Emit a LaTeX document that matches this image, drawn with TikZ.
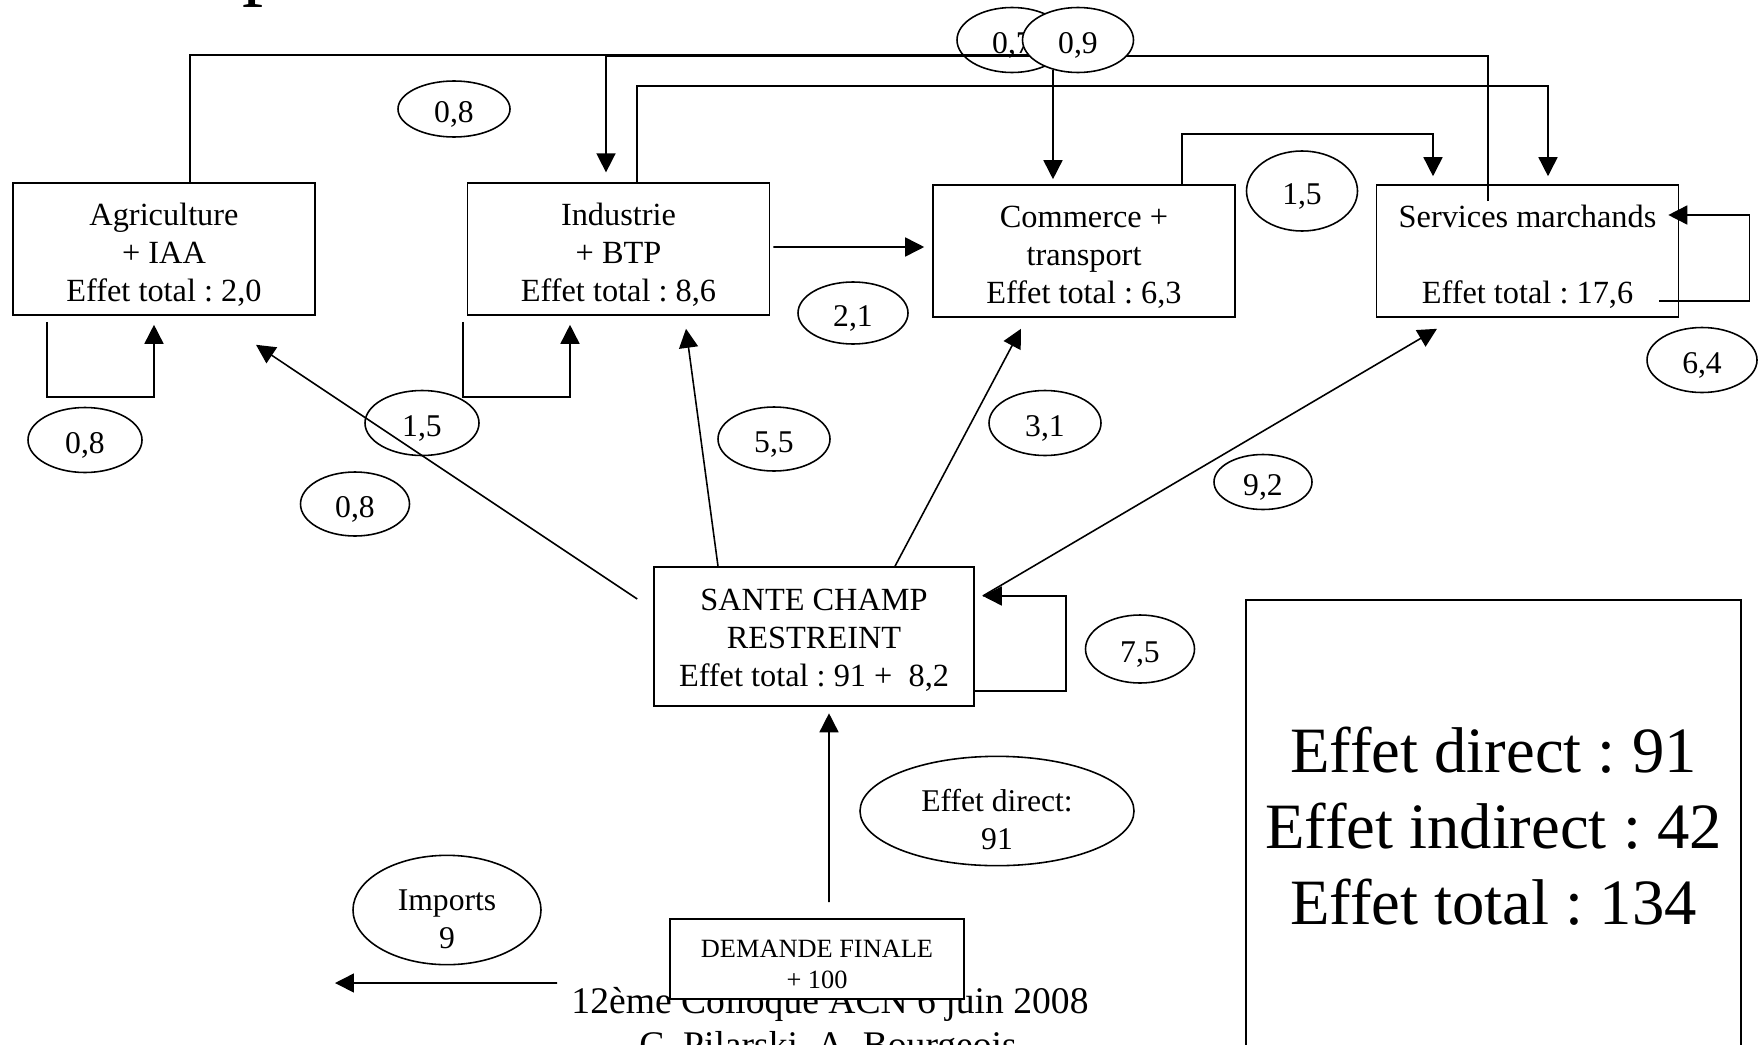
\documentclass[tikz,border=0pt]{standalone}
\usepackage{fontspec}
\setmainfont{Liberation Serif}
\frenchspacing
\usetikzlibrary{positioning, arrows.meta, shapes.geometric}

\begin{document}
\begin{tikzpicture}[
    secteur/.style={rectangle, draw=black, line width=0.45pt, minimum width=3.02cm, minimum height=1.32cm, align=center, inner sep=0pt, text height=29.8pt, text depth=0pt, font=\fontsize{9.2}{10.8}\selectfont},
    synthese/.style={rectangle, draw=black, line width=0.45pt, align=center, inner sep=0pt, font=\fontsize{18.4}{21.6}\selectfont},
    coef/.style={ellipse, draw=black, line width=0.45pt, minimum width=1.12cm, minimum height=0.65cm, inner sep=0pt, align=center, text height=7.5pt, text depth=0pt, font=\fontsize{9}{10.8}\selectfont},
    flux/.style={draw, line width=0.45pt, -{Triangle[length=5.4pt, width=5.4pt]}},
    lien/.style={draw, line width=0.45pt}
]

\useasboundingbox (0,0) rectangle (17.58,-10.45);

% titre coupe et bas de page
\node[anchor=base west, inner sep=0pt, font=\fontsize{24}{28}\selectfont] (titre) at (2.42,0.104) {p};
\node[anchor=base, inner sep=0pt, font=\fontsize{10.7}{12.8}\selectfont] (colloque) at (8.30,-10.13) {12ème Colloque ACN 6 juin 2008};
\node[anchor=base, inner sep=0pt, font=\fontsize{10.7}{12.8}\selectfont] (auteurs) at (8.28,-10.57) {C. Pilarski, A. Bourgeois};

% branches
\node[secteur] (agri) at (1.64,-2.49) {Agriculture\\+ IAA\\Effet total : 2,0};
\node[secteur] (indus) at (6.185,-2.49) {Industrie\\+ BTP\\Effet total : 8,6};
\node[secteur] (comm) at (10.84,-2.51) {Commerce +\\transport\\Effet total : 6,3};
\node[secteur] (serv) at (15.275,-2.51) {Services marchands\\\mbox{}\\Effet total : 17,6};
\node[secteur, minimum width=3.20cm, minimum height=1.39cm, text height=28.4pt] (sante) at (8.14,-6.365) {SANTE CHAMP\\RESTREINT\\Effet total : 91 +~ 8,2};
\node[secteur, fill=white, minimum width=2.94cm, minimum height=0.80cm, text height=16.9pt, font=\fontsize{7.5}{9}\selectfont] (demande) at (8.17,-9.59) {DEMANDE FINALE\\+ 100};
\node[synthese, minimum width=4.95cm, minimum height=4.52cm] (bilan) at (14.935,-8.26) {Effet direct : 91\\Effet indirect : 42\\Effet total : 134};

\coordinate (finA) at (10.30,-0.55);
\coordinate (santeEntree) at ([xshift=0.8mm,yshift=4.05mm]sante.east);
\coordinate (importsSortie) at (3.35,-9.83);

% liaisons du haut
\draw[lien] ([xshift=2.6mm]agri.north) |- (finA);
\draw[flux, shorten >=2.8pt] ([xshift=-3.95mm,yshift=-1.7mm]serv.north) -- ++(0,1.45) -| ([xshift=-1.25mm]indus.north);
\draw[flux, shorten >=0.8mm] ([xshift=1.85mm]indus.north) -- ++(0,0.96) -| ([xshift=2.05mm]serv.north);
\draw[flux, shorten >=0.8mm] ([xshift=9.8mm]comm.north) -- ++(0,0.50) -| ([xshift=-9.45mm]serv.north);
\draw[flux, shorten <=0.3mm, shorten >=0.8mm] ([yshift=0.2mm]indus.east) -- ([yshift=0.4mm]comm.west);

% boucles
\draw[flux] ([xshift=-11.7mm,yshift=-0.6mm]agri.south) -- ++(0,-0.75) -| ([xshift=-1mm,yshift=-0.9mm]agri.south);
\draw[flux] ([xshift=-15.55mm,yshift=-0.6mm]indus.south) -- ++(0,-0.75) -| ([xshift=-4.85mm,yshift=-0.9mm]indus.south);
\draw[flux] ([xshift=-2mm,yshift=-5mm]serv.east) -- ++(0.90,0) |- ([xshift=-1.1mm,yshift=3.6mm]serv.east);
\draw[flux] ([yshift=-5.45mm]sante.east) -- ++(0.91,0) |- (santeEntree);

% effets de la sante
\draw[flux] ([xshift=-1.6mm,yshift=3.75mm]sante.west) -- ([xshift=9.2mm,yshift=-2.9mm]agri.south);
\draw[flux] ([xshift=-9.6mm]sante.north) -- ([xshift=6.75mm,yshift=-1.3mm]indus.south);
\draw[flux] ([xshift=8.1mm]sante.north) -- ([xshift=-6.3mm,yshift=-1.1mm]comm.south);
\draw[flux] (santeEntree) -- ([xshift=-9.05mm,yshift=-1.1mm]serv.south);
\draw[flux] ([xshift=1.2mm,yshift=1.6mm]demande.north) -- ([xshift=1.5mm,yshift=-0.65mm]sante.south);
\draw[flux] ([xshift=-11.2mm,yshift=-2.4mm]demande.west) -- (importsSortie);

% coefficients
\node[coef, minimum height=0.56cm] (c08h) at (4.54,-1.09) {0,8};
\node[coef, minimum width=1.10cm] (c07) at (10.12,-0.40) {0,7};
\node[coef, fill=white, minimum width=1.11cm] (c09) at (10.78,-0.40) {0,9};
\node[coef, minimum width=1.11cm, minimum height=0.80cm] (c15h) at (13.02,-1.91) {1,5};
\node[coef, minimum width=1.10cm, minimum height=0.62cm] (c21) at (8.53,-3.13) {2,1};
\node[coef, minimum width=1.14cm] (c08a) at (0.85,-4.40) {0,8};
\node[coef, minimum width=1.14cm] (c15a) at (4.22,-4.23) {1,5};
\node[coef, minimum width=1.09cm, minimum height=0.64cm] (c08b) at (3.55,-5.04) {0,8};
\node[coef, minimum height=0.64cm] (c55) at (7.74,-4.39) {5,5};
\node[coef] (c31) at (10.45,-4.23) {3,1};
\node[coef, minimum width=0.98cm, minimum height=0.55cm] (c92) at (12.63,-4.82) {9,2};
\node[coef, minimum width=1.10cm] (c64) at (17.02,-3.60) {6,4};
\node[coef, minimum width=1.09cm, minimum height=0.68cm] (c75) at (11.40,-6.49) {7,5};
\node[coef, minimum width=2.74cm, minimum height=1.05cm, text height=22pt] (direct) at (9.97,-8.11) {Effet direct:\\91};
\node[coef, minimum width=1.88cm, minimum height=1.09cm, text height=22pt] (imports) at (4.47,-9.10) {Imports\\9};

\draw[flux, shorten >=0.5mm] (c09.230) -- (c09.230 |- comm.north);

\end{tikzpicture}
\end{document}
